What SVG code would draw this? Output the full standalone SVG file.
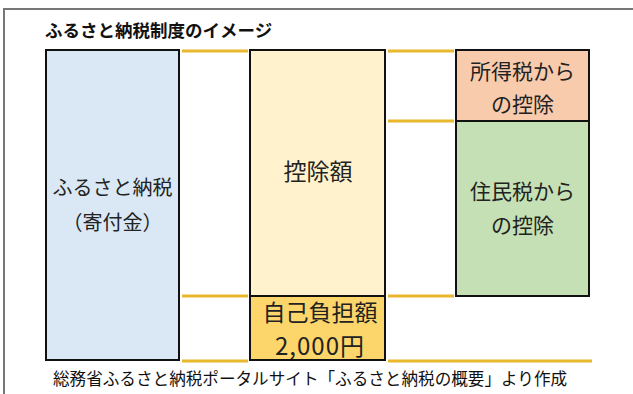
<svg xmlns="http://www.w3.org/2000/svg" width="633" height="394" viewBox="0 0 633 394">
<style>
.box{stroke:#111;stroke-width:2}
.ln{stroke:#e8b72c;stroke-width:3;fill:none}
.t{font-family:"Noto Sans CJK JP","Noto Sans",sans-serif;fill:#222;text-anchor:middle}
</style>
<rect width="633" height="394" fill="#fff"/>
<path d="M4 394V9H633" fill="none" stroke="#777" stroke-width="2"/>
<text x="45" y="37" style="font-family:'Noto Sans CJK JP',sans-serif;font-weight:bold;font-size:17.5px;fill:#111">ふるさと納税制度のイメージ</text>
<g id="connectors">
<line class="ln" x1="182" y1="51" x2="248" y2="51"/>
<line class="ln" x1="182" y1="296" x2="248" y2="296"/>
<line class="ln" x1="182" y1="361" x2="248" y2="361"/>
<line class="ln" x1="388" y1="51" x2="454" y2="51"/>
<line class="ln" x1="388" y1="121" x2="454" y2="121"/>
<line class="ln" x1="388" y1="296" x2="454" y2="296"/>
<line class="ln" x1="388" y1="361" x2="592" y2="361"/>
</g>
<g id="furusato">
<rect class="box" x="46" y="50" width="133" height="310" fill="#dae8f5"/>
<text class="t" x="112.5" y="195" font-size="20">ふるさと納税</text>
<text class="t" x="112.5" y="230" font-size="20">（寄付金）</text>
</g>
<g id="koujo">
<rect class="box" x="250" y="50" width="135" height="246" fill="#fff2cc"/>
<text class="t" x="318" y="180" font-size="23">控除額</text>
</g>
<g id="jiko">
<rect class="box" x="250" y="296" width="135" height="64" fill="#fcd56b"/>
<text class="t" x="320" y="321" font-size="23">自己負担額</text>
<text class="t" x="320" y="355" font-size="24" letter-spacing="1">2,000円</text>
</g>
<g id="shotoku">
<rect class="box" x="456" y="50" width="133" height="71" fill="#f8cbad"/>
<text class="t" x="522.5" y="79" font-size="21">所得税から</text>
<text class="t" x="522.5" y="112" font-size="21">の控除</text>
</g>
<g id="jumin">
<rect class="box" x="456" y="121" width="133" height="175" fill="#c5e0b4"/>
<text class="t" x="522.5" y="199" font-size="21">住民税から</text>
<text class="t" x="522.5" y="233" font-size="21">の控除</text>
</g>
<text x="53" y="385" style="font-family:'Noto Sans CJK JP',sans-serif;font-size:16.6px;fill:#111">総務省ふるさと納税ポータルサイト「ふるさと納税の概要」より作成</text>
</svg>
